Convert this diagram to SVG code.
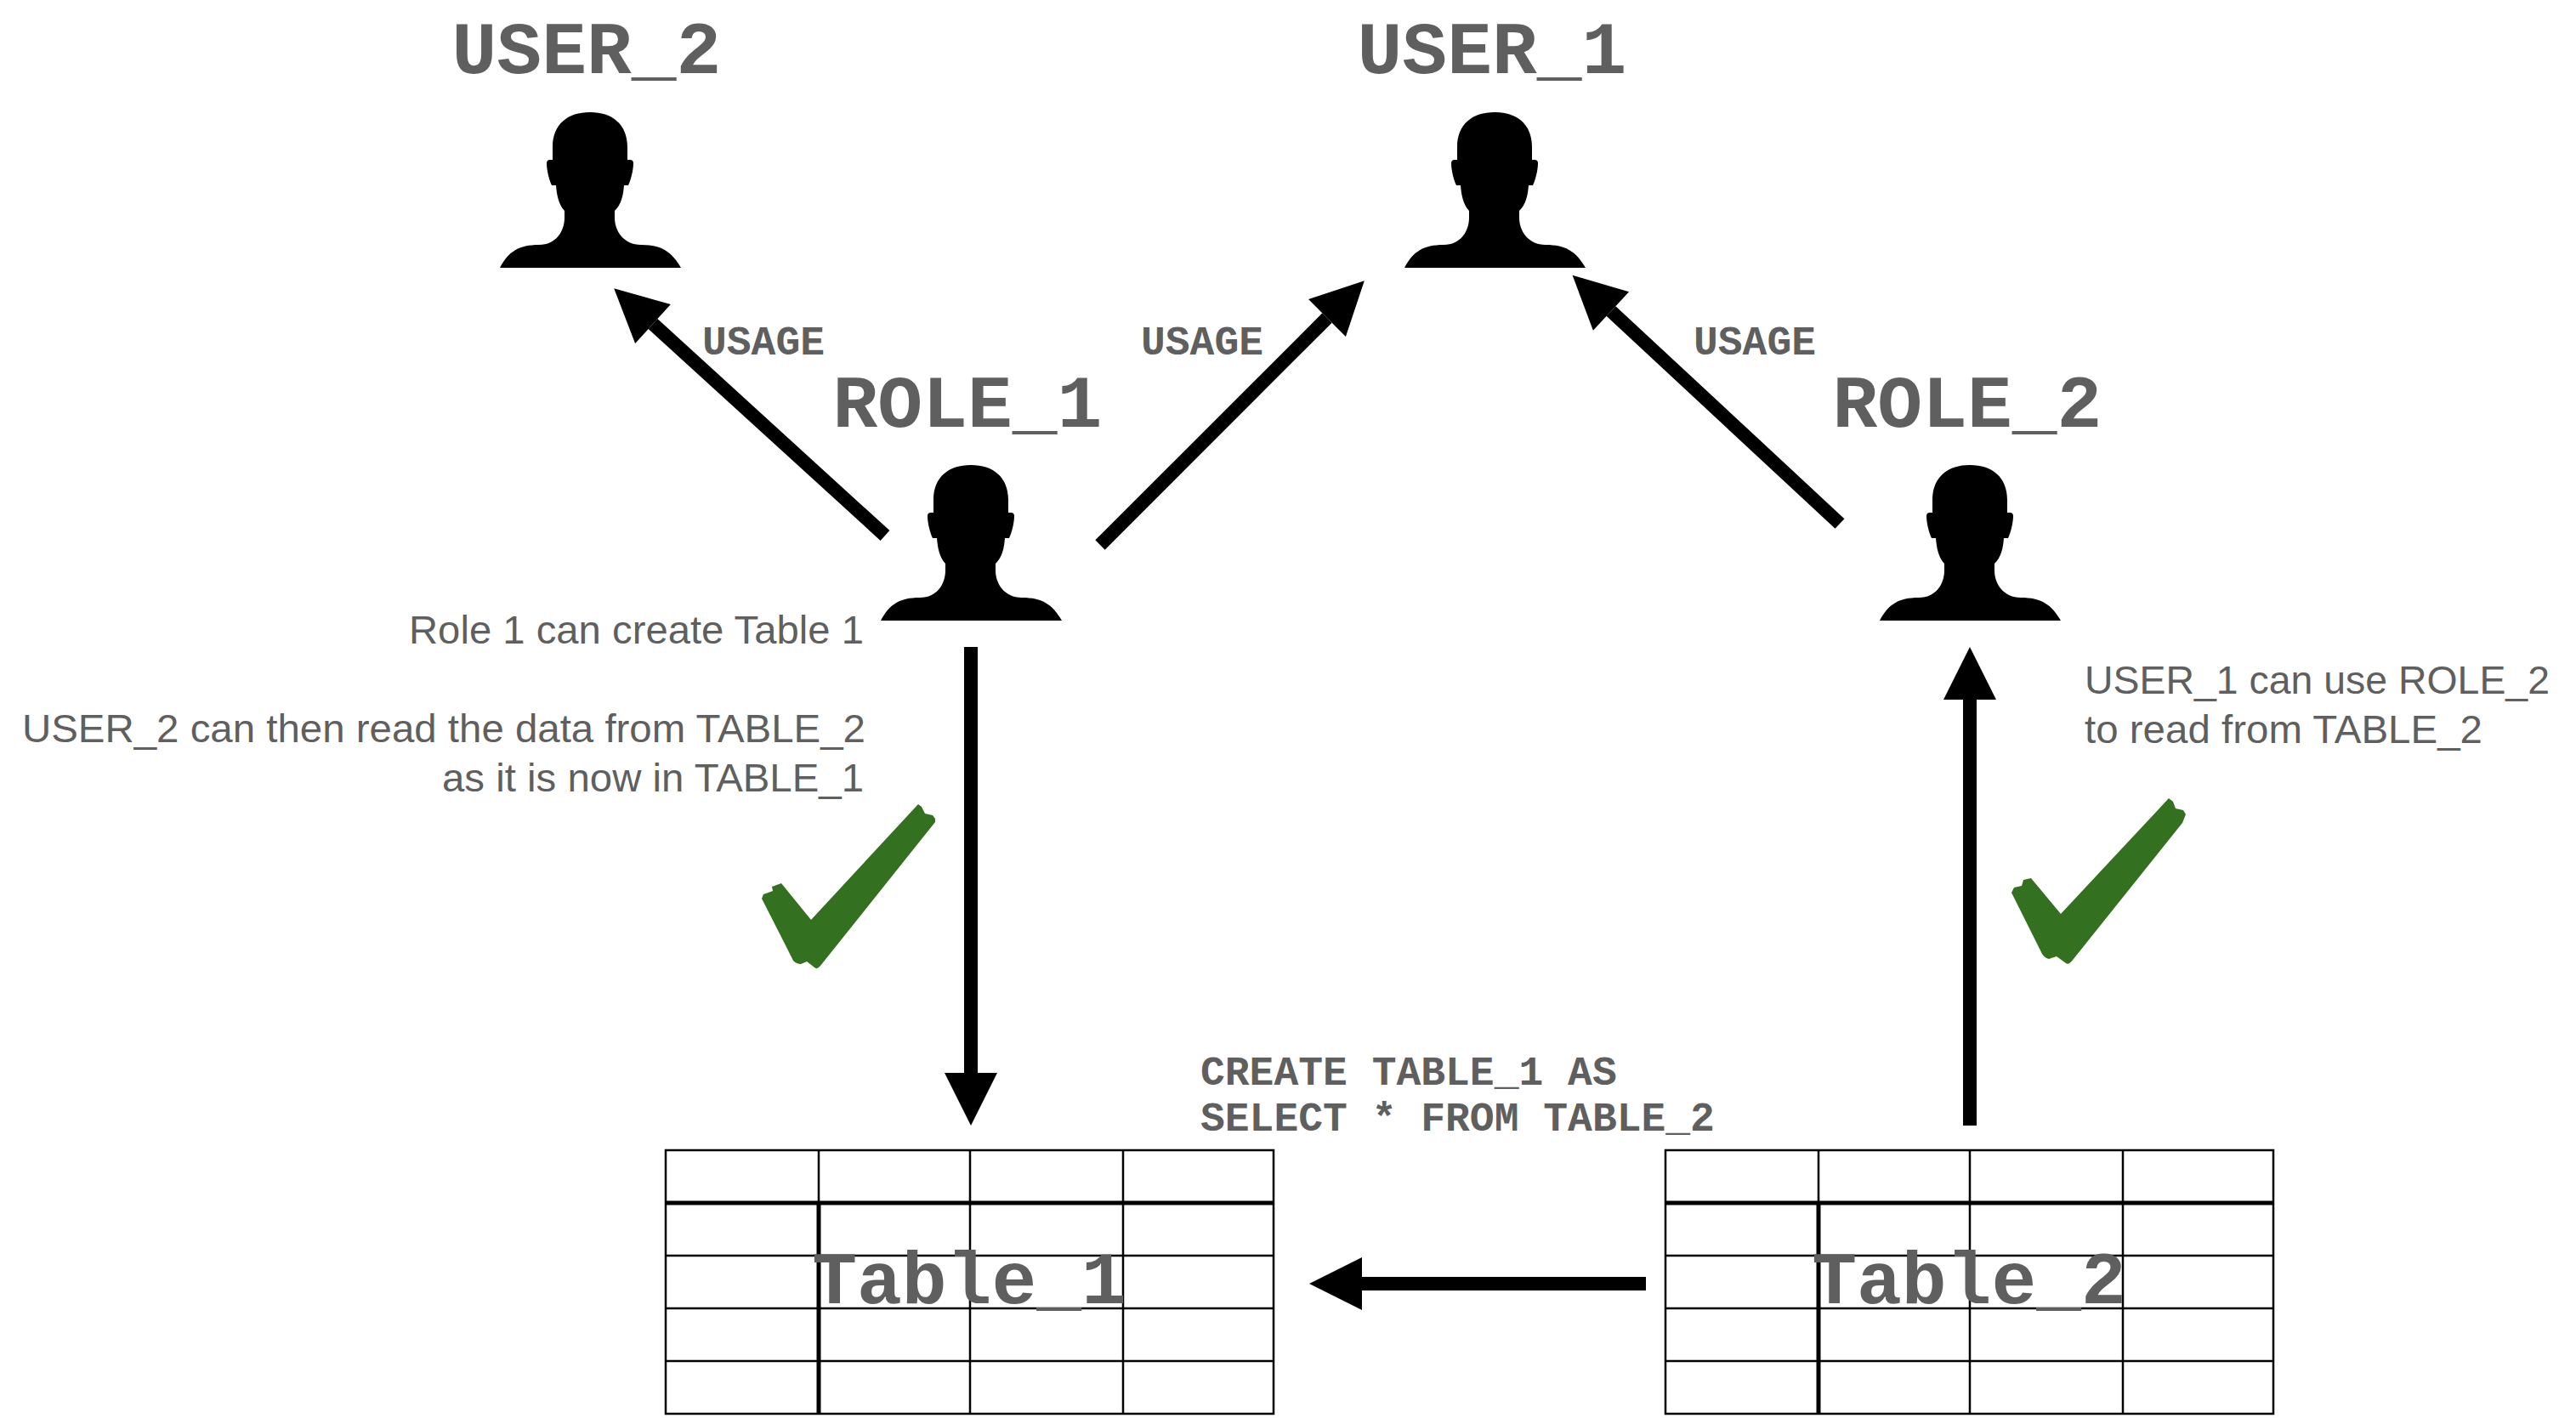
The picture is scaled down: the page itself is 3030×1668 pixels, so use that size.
<svg xmlns="http://www.w3.org/2000/svg" width="3030" height="1668" viewBox="0 0 3030 1668">
<style>
.big{font:bold 88px "Liberation Mono",monospace;fill:#5f5f5f;text-anchor:middle}
.code{font:bold 48px "Liberation Mono",monospace;fill:#5f5f5f}
.note{font:47px "Liberation Sans",Arial,sans-serif;fill:#5f5f5f}
.end{text-anchor:end}
.thin{stroke:#000;stroke-width:2.5;fill:none}
.thick{stroke:#000;stroke-width:5;fill:none}
.arrow{stroke:#000;stroke-width:16;fill:none;marker-end:url(#head)}
.check{fill:#33701f}
</style>
<defs>
<marker id="head" markerUnits="userSpaceOnUse" markerWidth="63" markerHeight="64" viewBox="-1 -32 63 64" refX="0" refY="0" orient="auto"><path d="M0,-31L62,0L0,31Z" fill="#000"/></marker>
<path id="person" d="M-106,183C-96,164-84,156-60,156C-40,156-30,140-30,124L-30,116C-37,108-39,98-40,86L-45,86C-48,80-51,68-51,60Q-51,56-47,56L-44,56L-44,41C-44,14-26,0,0,0C26,0,44,14,44,41L44,56L47,56Q51,56,51,60C51,68,48,80,45,86L40,86C39,98,37,108,29,116L29,124C29,140,40,156,60,156C84,156,96,164,107,183Z"/>
<g id="grid">
<rect class="thin" x="0" y="0" width="715" height="310"/>
<path class="thin" d="M0,124H715M0,186H715M0,248H715M358,0V310M538,0V310M180,0V62"/>
<path class="thick" d="M0,62H715M180,62V310"/>
</g>
</defs>
<rect width="3030" height="1668" fill="#fff"/>
<g id="connectors">
<path class="arrow" d="M1041,630L768,381"/>
<path class="arrow" d="M1294,641L1561,374"/>
<path class="arrow" d="M2164,616L1895,366"/>
<path class="arrow" d="M1142,761V1262"/>
<path class="arrow" d="M2317,1324V823"/>
<path class="arrow" d="M1936,1510H1602"/>
</g>
<g id="user2"><text class="big" x="690" y="86">USER_2</text><use href="#person" x="694" y="132"/></g>
<g id="user1"><text class="big" x="1755" y="86">USER_1</text><use href="#person" x="1758" y="132"/></g>
<g id="role1"><text class="big" x="1138" y="502">ROLE_1</text><use href="#person" x="1142" y="547"/></g>
<g id="role2"><text class="big" x="2314" y="502">ROLE_2</text><use href="#person" x="2317" y="547"/></g>
<g id="table1"><use href="#grid" x="783" y="1353"/><text class="big" x="1140" y="1533">Table_1</text></g>
<g id="table2"><use href="#grid" x="1959" y="1353"/><text class="big" x="2316" y="1533">Table_2</text></g>
<g id="labels">
<text class="code" x="826" y="417">USAGE</text>
<text class="code" x="1342" y="417">USAGE</text>
<text class="code" x="1992" y="417">USAGE</text>
<text class="code" x="1412" y="1276">CREATE TABLE_1 AS</text>
<text class="code" x="1412" y="1330">SELECT * FROM TABLE_2</text>
<text class="note end" x="1016" y="757" textLength="535" lengthAdjust="spacingAndGlyphs">Role 1 can create Table 1</text>
<text class="note end" x="1018" y="873" textLength="992" lengthAdjust="spacingAndGlyphs">USER_2 can then read the data from TABLE_2</text>
<text class="note end" x="1016" y="931" textLength="496" lengthAdjust="spacingAndGlyphs">as it is now in TABLE_1</text>
<text class="note" x="2452" y="816" textLength="547" lengthAdjust="spacingAndGlyphs">USER_1 can use ROLE_2</text>
<text class="note" x="2452" y="874" textLength="468" lengthAdjust="spacingAndGlyphs">to read from TABLE_2</text>
</g>
<g id="check1"><path class="check" d="M1080,946L1084,949L1088,957L1097,959L1100,963L1100,967L965,1136Q961,1141,958,1138L949,1131L942,1134Q937,1134,933,1130L924,1112L896,1057L898,1052L909,1048L908,1043L919,1039L954,1082Z"/></g>
<g id="check2"><path class="check" d="M2551,939L2556,943L2559,951L2568,953L2571,958L2567,968L2439,1128Q2433,1136,2430,1133L2419,1125L2410,1128Q2405,1127,2402,1122L2366,1050L2369,1044L2378,1042L2380,1035L2389,1033L2424,1075Z"/></g>
</svg>
